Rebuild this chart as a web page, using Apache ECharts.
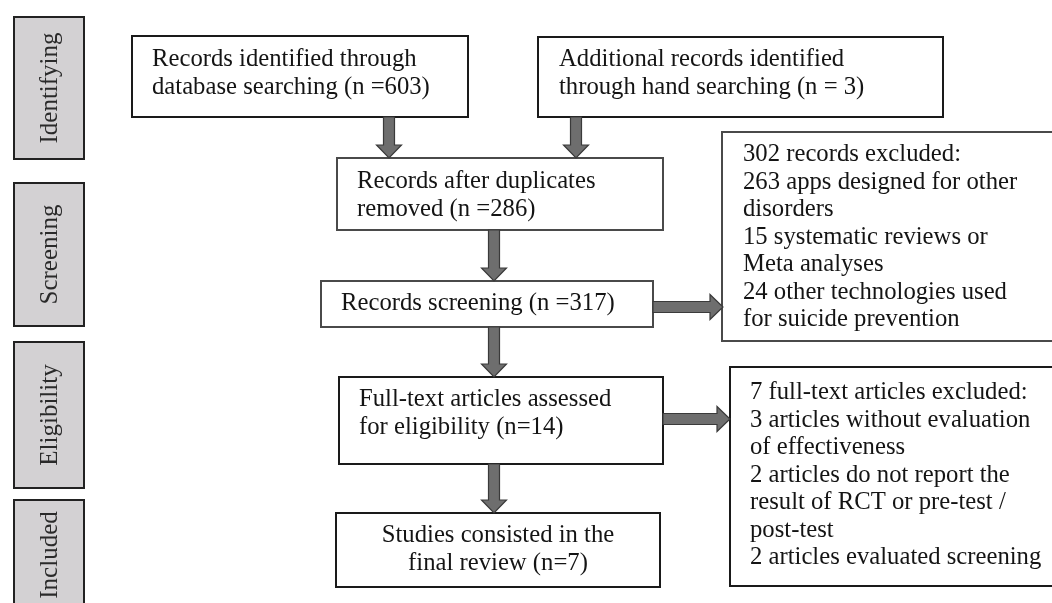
<!DOCTYPE html>
<html><head><meta charset="utf-8">
<script src="https://cdn.jsdelivr.net/npm/echarts@6/dist/echarts.min.js"></script>
<style>html,body{margin:0;padding:0;background:#fff}#c{width:1052px;height:603px}</style>
</head><body><div id="c"></div>
<script>
// ---------------- data ----------------
const stages = ['Identifying', 'Screening', 'Eligibility', 'Included'];
const nDatabase = 603;
const nHand = 3;
const nAfterDuplicates = 286;
const nScreened = 317;
const nFullText = 14;
const nIncluded = 7;
const screeningExclusions = [302, 263, 15, 24];
const fullTextExclusions = [7, 3, 2, 2];

const boxLines = [
  ['Records identified through', 'database searching (n =' + nDatabase + ')'],
  ['Additional records identified', 'through hand searching (n = ' + nHand + ')'],
  ['Records after duplicates', 'removed (n =' + nAfterDuplicates + ')'],
  ['Records screening (n =' + nScreened + ')'],
  ['Full-text articles assessed', 'for eligibility (n=' + nFullText + ')'],
  ['Studies consisted in the', 'final review (n=' + nIncluded + ')'],
  [screeningExclusions[0] + ' records excluded:',
   screeningExclusions[1] + ' apps designed for other', 'disorders',
   screeningExclusions[2] + ' systematic reviews or', 'Meta analyses',
   screeningExclusions[3] + ' other technologies used', 'for suicide prevention'],
  [fullTextExclusions[0] + ' full-text articles excluded:',
   fullTextExclusions[1] + ' articles without evaluation', 'of effectiveness',
   fullTextExclusions[2] + ' articles do not report the', 'result of RCT or pre-test /', 'post-test',
   fullTextExclusions[3] + ' articles evaluated screening']
];

// ---------------- layout (diagram space = pixels of a 1052x603 canvas) ----------------
const stageLayout = [[14, 17, 84, 159], [14, 183, 84, 326], [14, 342, 84, 488], [14, 500, 84, 610]];
const boxLayout = [
  { r: [132, 36, 468, 117], t: [152, 60], align: 'left', stroke: '#1a1a1a' },
  { r: [538, 37, 943, 117], t: [559, 60], align: 'left', stroke: '#1a1a1a' },
  { r: [337, 158, 663, 230], t: [357, 182], align: 'left', stroke: '#4a4a4a' },
  { r: [321, 281, 653, 327], t: [341, 304], align: 'left', stroke: '#4a4a4a' },
  { r: [339, 377, 663, 464], t: [359, 400], align: 'left', stroke: '#1a1a1a' },
  { r: [336, 513, 660, 587], t: [498, 536], align: 'center', stroke: '#1a1a1a' },
  { r: [722, 132, 1080, 341], t: [743, 155], align: 'left', stroke: '#4a4a4a' },
  { r: [730, 367, 1080, 586], t: [750, 393], align: 'left', stroke: '#1a1a1a' }
];
const arrowLayout = [
  [389, 117, 389, 158], [576, 117, 576, 158],
  [494, 230, 494, 281], [494, 327, 494, 377], [494, 464, 494, 513],
  [653, 307, 723, 307], [663, 419, 730, 419]
];
const LINE_GAP = 27.5;
const FONT = '"Liberation Serif", "Times New Roman", serif';

function rectShape(api, r) {
  const p0 = api.coord([r[0], r[1]]);
  const p1 = api.coord([r[2], r[3]]);
  return { x: Math.min(p0[0], p1[0]), y: Math.min(p0[1], p1[1]), width: Math.abs(p1[0] - p0[0]), height: Math.abs(p1[1] - p0[1]) };
}

const chart = echarts.init(document.getElementById('c'), null, { renderer: 'canvas' });
chart.setOption({
  animation: false,
  backgroundColor: '#ffffff',
  grid: { left: 0, right: 0, top: 0, bottom: 0 },
  xAxis: { type: 'value', min: 0, max: 1052, show: false },
  yAxis: { type: 'value', min: 0, max: 603, inverse: true, show: false },
  series: [
    {
      type: 'custom', name: 'stages', silent: true, clip: false,
      data: stages.map((s, i) => [i, 0]),
      renderItem: function (params, api) {
        const i = api.value(0);
        const L = stageLayout[i];
        const c = api.coord([(L[0] + L[2]) / 2, (L[1] + L[3]) / 2]);
        return {
          type: 'group',
          children: [
            { type: 'rect', shape: rectShape(api, L), style: { fill: '#d3d1d3', stroke: '#222222', lineWidth: 2 } },
            { type: 'text', x: c[0] + 1, y: c[1], rotation: Math.PI / 2,
              style: { text: stages[i], font: '25px ' + FONT, fill: '#2a2a2a', align: 'center', verticalAlign: 'middle' } }
          ]
        };
      }
    },
    {
      type: 'custom', name: 'boxes', silent: true, clip: false,
      data: boxLines.map((b, i) => [i, 0]),
      renderItem: function (params, api) {
        const i = api.value(0);
        const L = boxLayout[i];
        const children = [
          { type: 'rect', shape: rectShape(api, L.r), style: { fill: '#ffffff', stroke: L.stroke, lineWidth: 2 } }
        ];
        boxLines[i].forEach(function (line, k) {
          const p = api.coord([L.t[0], L.t[1] + k * LINE_GAP]);
          children.push({ type: 'text', x: p[0], y: p[1],
            style: { text: line, font: '24.7px ' + FONT, fill: '#141414', align: L.align, verticalAlign: 'middle' } });
        });
        return { type: 'group', children: children };
      }
    },
    {
      type: 'custom', name: 'arrows', silent: true, clip: false,
      data: arrowLayout.map((a, i) => [i, 0]),
      renderItem: function (params, api) {
        const a = arrowLayout[api.value(0)];
        const s = api.coord([a[0], a[1]]);
        const e = api.coord([a[2], a[3]]);
        const dx = e[0] - s[0], dy = e[1] - s[1];
        const len = Math.sqrt(dx * dx + dy * dy);
        const ux = dx / len, uy = dy / len;
        const nx = -uy, ny = ux;
        const sw = 5.5, hw = 12.5, hl = 13;
        const bx = e[0] - ux * hl, by = e[1] - uy * hl;
        const pts = [
          [s[0] + nx * sw, s[1] + ny * sw],
          [bx + nx * sw, by + ny * sw],
          [bx + nx * hw, by + ny * hw],
          [e[0], e[1]],
          [bx - nx * hw, by - ny * hw],
          [bx - nx * sw, by - ny * sw],
          [s[0] - nx * sw, s[1] - ny * sw]
        ];
        return { type: 'polygon', shape: { points: pts }, style: { fill: '#6e6e6e', stroke: '#3a3a3a', lineWidth: 1.2 } };
      }
    }
  ]
});
</script>
</body></html>
